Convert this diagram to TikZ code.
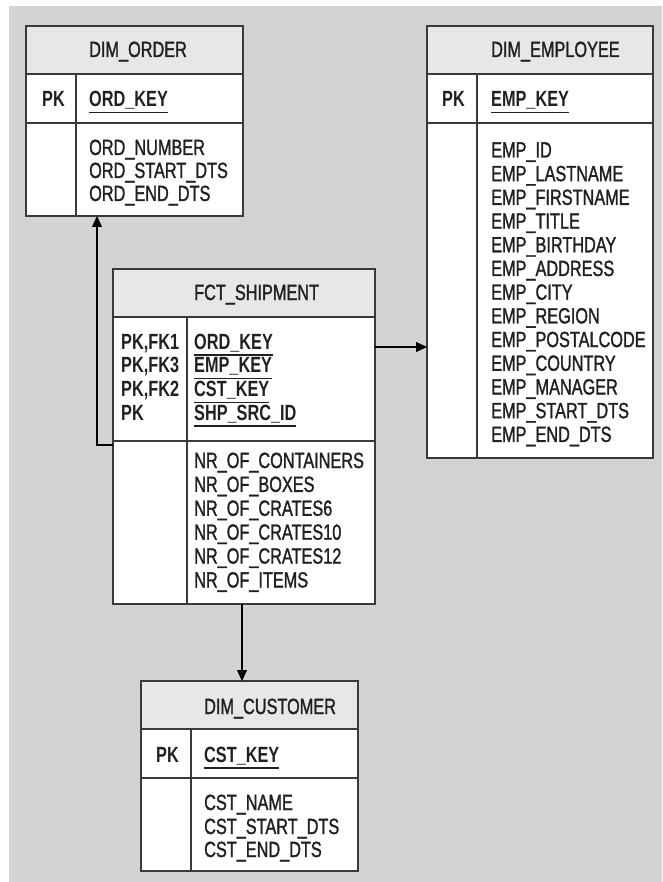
\documentclass[tikz,border=0pt]{standalone}
\usepackage{fontspec}
\setmainfont{Liberation Sans}[FakeStretch=0.74]
\newfontfamily\medfont{Liberation Sans}[FakeStretch=0.74,FakeBold=1.3]
\usetikzlibrary{arrows.meta,calc}
\definecolor{bg}{HTML}{D1D3D4}
\definecolor{hdr}{HTML}{E6E7E8}
\definecolor{bord}{HTML}{3A3A3A}
\definecolor{ink}{HTML}{231F20}
\newsavebox\ulbox
\newcommand\ulk[1]{\sbox\ulbox{#1}\rlap{\rule[-6.5pt]{\wd\ulbox}{1.2pt}}\usebox\ulbox}
\tikzset{
  tbl/.style={draw=bord, line width=1.3pt, inner sep=0pt, outer sep=0pt, rectangle},
  sepline/.style={draw=bord, line width=1.2pt},
  ftxt/.style={anchor=base west, inner sep=0pt, text=ink, font=\fontsize{22}{22}\selectfont\medfont},
  ktxt/.style={ftxt, font=\fontsize{22}{22}\selectfont\rmfamily\bfseries},
  pkr/.style={ktxt, anchor=base east},
  arr/.style={draw=black, line width=1.1pt, -{Triangle[length=11pt,width=10pt]}}
}
% name, x, y, w, h, divider offset, header height, pk bottom offset
\newcommand\ertbl[8]{%
  \fill[white] (#2,#3) rectangle ++(#4,#5);
  \fill[hdr] (#2,#3) rectangle ++(#4,#7);
  \draw[sepline] (#2,#3+#7) -- ++(#4,0);
  \draw[sepline] (#2,#3+#8) -- ++(#4,0);
  \draw[sepline] (#2+#6,#3+#7) -- (#2+#6,#3+#5);
  \node[tbl, minimum width=#4pt, minimum height=#5pt, anchor=north west] (#1) at (#2,#3) {};
}
\begin{document}
\begin{tikzpicture}[x=1pt,y=-1pt]
\useasboundingbox (0,0) rectangle (662,882);
\fill[white] (0,0) rectangle (662,882);
\fill[bg] (9,6) rectangle (662,882);

% tables
\ertbl{ord}{26}{26}{217}{190}{50}{48}{97}
\ertbl{emp}{427}{26}{226}{432}{50}{48}{97}
\ertbl{fct}{113}{269}{262}{335}{74}{48}{172}
\ertbl{cst}{141}{681}{217}{190}{50}{48}{97}

% DIM_ORDER
\node[ftxt] (ordt) at (89,57) {DIM\_ORDER};
\node[pkr] (ordpk) at (65,107) {PK};
\node[ktxt] (ordk) at (89,107) {\ulk{ORD\_KEY}};
\node[ftxt] (ordf1) at (89,155) {ORD\_NUMBER};
\node[ftxt] (ordf2) at (89,178) {ORD\_START\_DTS};
\node[ftxt] (ordf3) at (89,201) {ORD\_END\_DTS};

% DIM_EMPLOYEE
\node[ftxt] (empt) at (491,57) {DIM\_EMPLOYEE};
\node[pkr] (emppk) at (465,107) {PK};
\node[ktxt] (empk) at (491,107) {\ulk{EMP\_KEY}};
\foreach \t [count=\i from 0] in {EMP\_ID,EMP\_LASTNAME,EMP\_FIRSTNAME,EMP\_TITLE,EMP\_BIRTHDAY,EMP\_ADDRESS,EMP\_CITY,EMP\_REGION,EMP\_POSTALCODE,EMP\_COUNTRY,EMP\_MANAGER,EMP\_START\_DTS,EMP\_END\_DTS}
  \node[ftxt] (empf\i) at (491,157.5+23.7*\i) {\t};

% FCT_SHIPMENT
\node[ftxt] (fctt) at (194,300) {FCT\_SHIPMENT};
\node[ktxt] (fpk1) at (121,349) {PK,FK1};
\node[ktxt] (fpk2) at (121,372.7) {PK,FK3};
\node[ktxt] (fpk3) at (121,396.4) {PK,FK2};
\node[ktxt] (fpk4) at (121,420.1) {PK};
\node[ktxt] (fk1) at (194,349) {\ulk{ORD\_KEY}};
\node[ktxt] (fk2) at (194,372.7) {\ulk{EMP\_KEY}};
\node[ktxt] (fk3) at (194,396.4) {\ulk{CST\_KEY}};
\node[ktxt] (fk4) at (194,420.1) {\ulk{SHP\_SRC\_ID}};
\foreach \t [count=\i from 0] in {NR\_OF\_CONTAINERS,NR\_OF\_BOXES,NR\_OF\_CRATES6,NR\_OF\_CRATES10,NR\_OF\_CRATES12,NR\_OF\_ITEMS}
  \node[ftxt] (fctf\i) at (194,468+23.9*\i) {\t};

% DIM_CUSTOMER
\node[ftxt] (cstt) at (204,714) {DIM\_CUSTOMER};
\node[pkr] (cstpk) at (179,762) {PK};
\node[ktxt] (cstk) at (204,762) {\ulk{CST\_KEY}};
\node[ftxt] (cstf1) at (204,810) {CST\_NAME};
\node[ftxt] (cstf2) at (204,834) {CST\_START\_DTS};
\node[ftxt] (cstf3) at (204,857) {CST\_END\_DTS};

% connectors
\coordinate (o1) at ($(fct.north west)+(0,176)$);
\coordinate (o2) at ($(ord.south west)+(71,0)$);
\draw[arr] (o1) -| (o2);
\coordinate (e1) at ($(fct.north east)+(0,78)$);
\draw[arr] (e1) -- (e1 -| emp.west);
\coordinate (c1) at ($(fct.south west)+(129,0)$);
\draw[arr] (c1) -- (c1 |- cst.north);
\end{tikzpicture}
\end{document}
